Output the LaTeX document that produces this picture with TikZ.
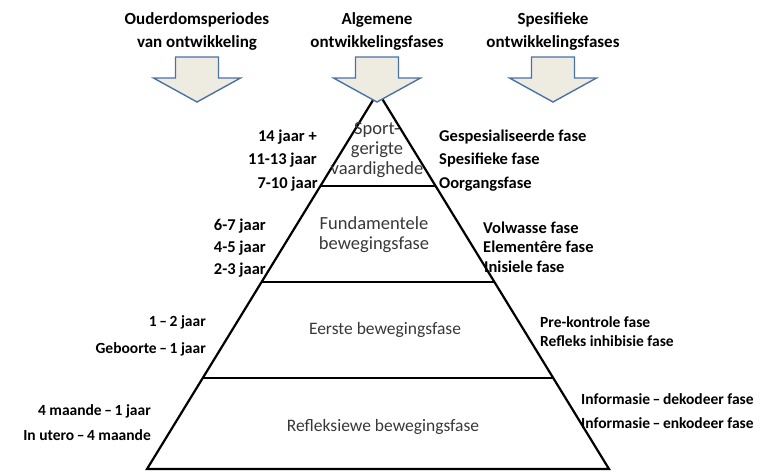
\documentclass[tikz,border=0pt]{standalone}
\usepackage{fontspec}
\setmainfont{Carlito}
\begin{document}
\begin{tikzpicture}[x=1pt,y=-1pt,
  hdr/.style={font=\fontsize{17}{23}\selectfont\bfseries, align=center, inner sep=0pt},
  lbl/.style={font=\fontsize{16.5}{18}\selectfont\bfseries, inner sep=0pt},
  llbl/.style={lbl, anchor=east},
  rlbl/.style={lbl, anchor=west},
  slbl/.style={font=\fontsize{15.5}{18}\selectfont\bfseries, inner sep=0pt},
  sllbl/.style={slbl, anchor=east},
  srlbl/.style={slbl, anchor=west},
  mid/.style={font=\fontsize{18.5}{20}\selectfont, text=black!78, align=center, inner sep=0pt},
  smid/.style={mid, font=\fontsize{17.5}{20}\selectfont},
  tri/.style={draw=black, line width=2.2pt, line join=miter}
]
\definecolor{arrowblue}{HTML}{4A72A8}
\definecolor{arrowfill}{HTML}{EEECE1}
\useasboundingbox (0,0) rectangle (768,474);

% triangle
\coordinate (apex) at (378,92);
\coordinate (bl) at (147,469);
\coordinate (br) at (609,469);
\draw[tri] (apex) -- (bl) -- (br) -- cycle;
\coordinate (l1) at (320.4,186); \coordinate (r1) at (435.6,186);
\coordinate (l2) at (261.6,282); \coordinate (r2) at (494.4,282);
\coordinate (l3) at (202.8,378); \coordinate (r3) at (553.2,378);
\draw[tri] (l1) -- (r1);
\draw[tri] (l2) -- (r2);
\draw[tri] (l3) -- (r3);

% arrows
\foreach \cx/\nm in {197/a1,377/a2,553/a3}{
  \draw[draw=arrowblue, fill=arrowfill, line width=1.4pt, line join=miter]
    (\cx-21.5,57) -- (\cx+21.5,57) -- (\cx+21.5,78) -- (\cx+43.5,78) -- (\cx,102)
    -- (\cx-43.5,78) -- (\cx-21.5,78) -- cycle;
  \coordinate (\nm) at (\cx,102);
}

% headers
\node[hdr] (h1) at (197,31) {Ouderdomsperiodes\\van ontwikkeling};
\node[hdr] (h2) at (377,31) {Algemene\\ontwikkelingsfases};
\node[hdr] (h3) at (553,31) {Spesifieke\\ontwikkelingsfases};

% top layer
\node[mid] (m1) at (377,150) {Sport-\\gerigte\\vaardighede};
\node[llbl] (la1) at (317,137) {14 jaar +};
\node[llbl] (la2) at (317,160) {11-13 jaar};
\node[llbl] (la3) at (318,184) {7-10 jaar};
\node[rlbl] (ra1) at (439,137) {Gespesialiseerde fase};
\node[rlbl] (ra2) at (439,160) {Spesifieke fase};
\node[rlbl] (ra3) at (439,184) {Oorgangsfase};

% second layer
\node[mid] (m2) at (374,235) {Fundamentele\\bewegingsfase};
\node[llbl] (lb1) at (266,226) {6-7 jaar};
\node[llbl] (lb2) at (266,248) {4-5 jaar};
\node[llbl] (lb3) at (266,270) {2-3 jaar};
\node[rlbl] (rb1) at (483,228) {Volwasse fase};
\node[rlbl] (rb2) at (483,247) {Elementêre fase};
\node[rlbl] (rb3) at (484,267) {Inisiele fase};

% third layer
\node[smid] (m3) at (385,330) {Eerste bewegingsfase};
\node[sllbl] (lc1) at (206,322) {1\,–\,2 jaar};
\node[sllbl] (lc2) at (206,349) {Geboorte\,–\,1 jaar};
\node[srlbl] (rc1) at (540,322) {Pre-kontrole fase};
\node[srlbl] (rc2) at (540,341) {Refleks inhibisie fase};

% bottom layer
\node[smid] (m4) at (383,427) {Refleksiewe bewegingsfase};
\node[sllbl] (ld1) at (151,411) {4 maande\,–\,1 jaar};
\node[sllbl] (ld2) at (151,435) {In utero\,–\,4 maande};
\node[srlbl] (rd1) at (581,399) {Informasie\,–\,dekodeer fase};
\node[srlbl] (rd2) at (581,423) {Informasie\,–\,enkodeer fase};
\end{tikzpicture}
\end{document}
